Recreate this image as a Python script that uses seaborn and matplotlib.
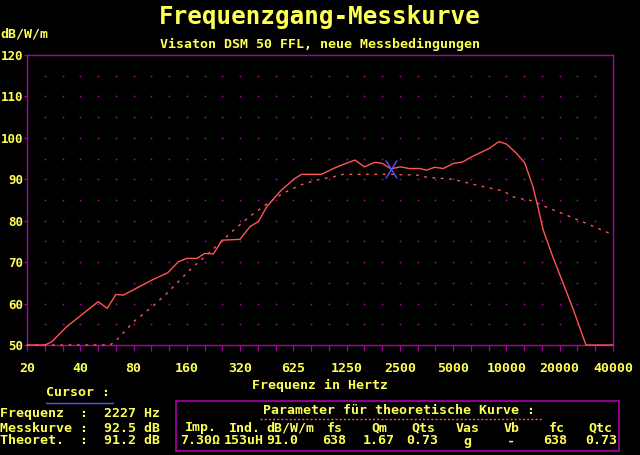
import numpy as np
import pandas as pd
import seaborn as sns
import matplotlib.pyplot as plt
from matplotlib.path import Path
from matplotlib.patches import Rectangle

# Messkurve (Hz, dB/W/m)
mess_freq = [19.53, 24.7, 27.0, 32.7, 49.3, 55.5, 62.0, 68.4, 100.6, 122, 140, 156, 178,
             197, 221, 247, 312, 356, 397, 442, 535, 637, 696, 901, 1051, 1198, 1393,
             1575, 1806, 1985, 2227, 2506, 2833, 3243, 3537, 3928, 4397, 5002, 5667,
             6350, 8031, 9066, 10004, 11372, 12701, 14118, 15046, 16120, 18270, 20908,
             23937, 28138, 40000]
mess_db = [50, 50, 50.8, 54.4, 60.45, 58.85, 62.2, 62.05, 65.8, 67.45, 70.1, 70.9, 70.9,
           72.1, 72.0, 75.3, 75.5, 78.6, 79.8, 83.4, 87.4, 90.2, 91.2, 91.2, 92.6, 93.6,
           94.65, 93.0, 94.1, 93.85, 92.5, 93.0, 92.6, 92.6, 92.2, 92.9, 92.6, 93.8,
           94.2, 95.4, 97.5, 99.1, 98.5, 96.3, 93.9, 88.2, 83.4, 77.8, 71.3, 64.9,
           58.4, 50, 50]

# theoretische Kurve
theo_freq = [19.53, 57.4, 61.5, 78.1, 100.6, 120, 166, 202, 285, 356, 461, 545, 682, 844,
             1051, 1198, 2227, 3165, 3537, 5002, 7073, 9594, 10845, 12408, 14118, 16120,
             21690, 28138, 40000]
theo_db = [50, 50, 50.8, 55.6, 59.4, 62.4, 68.5, 71.7, 77.6, 81.1, 84.6, 86.6, 88.6, 89.8,
           90.6, 91.2, 91.2, 91.0, 90.5, 90.0, 88.4, 87.2, 85.8, 85.2, 84.8, 83.6,
           81.4, 79.4, 76.6]

x_ticks = [40000 / 2 ** k for k in range(11, -1, -1)]
x_labels = ['20', '40', '80', '160', '320', '625', '1250', '2500', '5000', '10000',
            '20000', '40000']
y_ticks = [50, 60, 70, 80, 90, 100, 110, 120]

cursor_freq = 2227
cursor_mess = 92.5
cursor_theo = 91.2

param_head = ['Imp.', 'Ind.', 'dB/W/m', 'fs', 'Qm', 'Qts', 'Vas', 'Vb', 'fc', 'Qtc']
param_vals = ['7.30Ω', '153uH', '91.0', '638', '1.67', '0.73', 'g', '-', '638', '0.73']

YELLOW = '#ffff55'
MAGENTA = '#aa00aa'
RED = '#ff5555'
BLUE = '#5555ff'
MONO = 'DejaVu Sans Mono'

sns.set_theme(style='dark', rc={'axes.facecolor': 'black', 'figure.facecolor': 'black'})
plt.rcParams['font.family'] = [MONO, 'DejaVu Sans']
plt.rcParams['font.weight'] = 'bold'

W, H = 640, 455
fig = plt.figure(figsize=(6.4, 4.55), dpi=100)
ax = fig.add_axes([27 / W, 1 - 345 / H, 586 / W, 290 / H])

mess = pd.DataFrame({'freq': mess_freq, 'db': mess_db})
theo = pd.DataFrame({'freq': theo_freq, 'db': theo_db})

# grid of dots: every third octave, every 5 dB
gx = [40000 / 2 ** (k / 3) for k in range(1, 33)]
gy = list(range(55, 120, 5))
GX, GY = np.meshgrid(gx, gy)
ax.plot(GX.ravel(), GY.ravel(), ls='none', marker='s', ms=1.2, mew=0, color=MAGENTA, zorder=1)

sns.lineplot(data=theo, x='freq', y='db', ax=ax, color=RED, lw=1.0, ls=(0, (2, 4)),
             estimator=None, sort=False, clip_on=False, zorder=4)
sns.lineplot(data=mess, x='freq', y='db', ax=ax, color=RED, lw=1.0,
             estimator=None, sort=False, clip_on=False, zorder=5)

# cursor cross
cross = Path([(-0.62, -1), (0.62, 1), (-0.62, 1), (0.62, -1)],
             [Path.MOVETO, Path.LINETO, Path.MOVETO, Path.LINETO])
ax.plot([cursor_freq], [cursor_mess], ls='none', marker=cross, ms=13, mew=1.0,
        color=BLUE, zorder=6)

ax.set_xscale('log', base=2)
ax.set_xlim(x_ticks[0], x_ticks[-1])
ax.set_ylim(50, 120)
ax.set_xticks(x_ticks)
ax.set_xticklabels(x_labels)
ax.set_xticks(gx + [x_ticks[0]], minor=True)
ax.set_yticks(y_ticks)
ax.set_yticklabels([str(v) for v in y_ticks])
ax.set_xlabel('')
ax.set_ylabel('')
ax.grid(False)
for s in ax.spines.values():
    s.set_visible(True)
    s.set_color(MAGENTA)
    s.set_linewidth(1.0)
ax.tick_params(axis='x', which='both', direction='out', length=4.2, width=0.9,
               color=MAGENTA, bottom=True, labelsize=9.5, labelcolor=YELLOW, pad=8)
ax.tick_params(axis='y', which='major', direction='out', length=2.0, width=0.9,
               color=MAGENTA, left=True, labelsize=9, labelcolor=YELLOW, pad=0.5)
for lab in ax.get_xticklabels() + ax.get_yticklabels():
    lab.set_fontweight('bold')


def ftext(x, y, s, size=9.5, ha='left', color=YELLOW):
    fig.text(x / W, 1 - y / H, s, fontsize=size, ha=ha, va='center', color=color,
             family=[MONO, 'DejaVu Sans'], fontweight='bold')


ftext(320, 17, 'Frequenzgang-Messkurve', size=17.5, ha='center')
ftext(0, 34, 'dB/W/m')
ftext(320, 44, 'Visaton DSM 50 FFL, neue Messbedingungen', ha='center')
ftext(320, 385, 'Frequenz in Hertz', ha='center')

# cursor readout
ftext(78, 393, 'Cursor :', ha='center')
fig.add_artist(plt.Line2D([46 / W, 113 / W], [1 - 403 / H, 1 - 403 / H], color=BLUE, lw=1))
ftext(0, 414, f'Frequenz  :  {cursor_freq:4d} Hz')
ftext(0, 428, f'Messkurve :  {cursor_mess:4.1f} dB')
ftext(0, 441, f'Theoret.  :  {cursor_theo:4.1f} dB')

# parameter box
fig.add_artist(Rectangle((176 / W, 1 - 451 / H), 443 / W, 50 / H, transform=fig.transFigure,
                         fill=False, edgecolor=MAGENTA, lw=1.2))
ftext(399, 411, 'Parameter für theoretische Kurve :', ha='center')
fig.add_artist(plt.Line2D([260 / W, 542 / W], [1 - 418.5 / H, 1 - 418.5 / H], color=RED,
                          lw=1, ls=(0, (1.5, 1.5))))
head_x = [201, 245, 290, 335, 379, 423, 468, 512, 557, 600]
val_x = [200, 244, 282, 334, 379, 422, 467, 511, 555, 601]
for hx, vx, h, v in zip(head_x, val_x, param_head, param_vals):
    ftext(hx, 428, h, ha='center')
    ftext(vx, 441, v, ha='center')

fig.savefig('out.png', dpi=100, facecolor='black')
